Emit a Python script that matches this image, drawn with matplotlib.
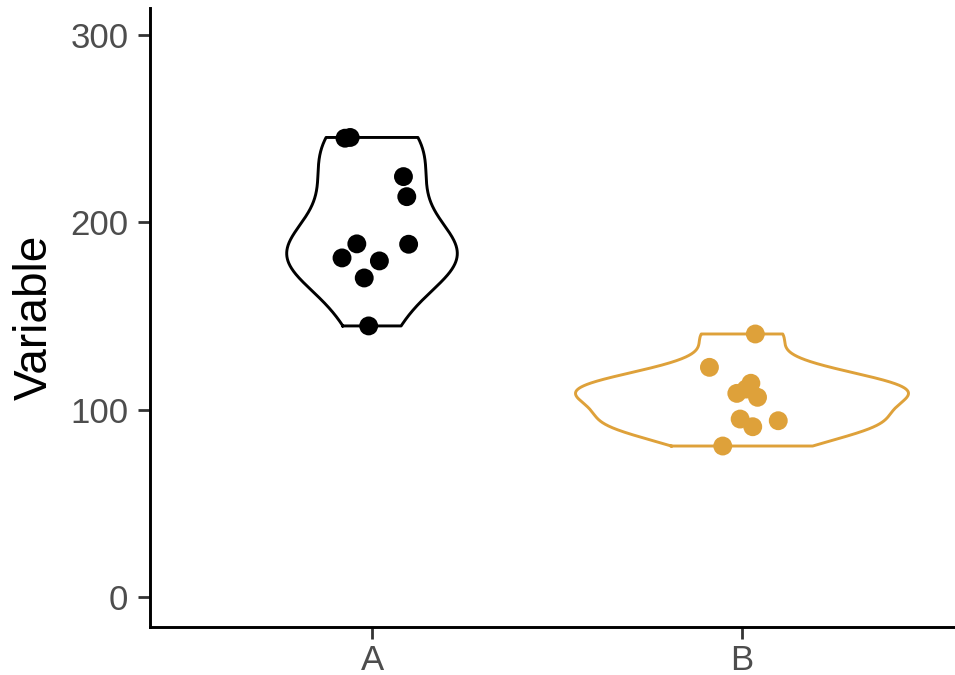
import numpy as np
import matplotlib
matplotlib.use("Agg")
import matplotlib.pyplot as plt

plt.rcParams['font.family'] = ['Liberation Sans', 'DejaVu Sans']

# Groups, their colours, and the observed values with their horizontal jitter
groups = ["A", "B"]
colors = ["#000000", "#DEA13A"]

values_a = [244.9, 245.3, 224.4, 213.7, 188.3, 188.5, 181.0, 179.4, 170.3, 144.7]
jitter_a = [-0.073, -0.059, 0.085, 0.094, 0.099, -0.041, -0.081, 0.020, -0.021, -0.009]

values_b = [140.4, 122.6, 114.1, 111.0, 108.7, 106.6, 95.0, 90.9, 94.1, 80.6]
jitter_b = [0.036, -0.088, 0.024, 0.011, -0.014, 0.042, -0.005, 0.029, 0.098, -0.052]

y_ticks = [0, 100, 200, 300]
y_label = "Variable"


def bw_nrd0(x):
    x = np.asarray(x, float)
    sd = np.std(x, ddof=1)
    iqr = np.subtract(*np.percentile(x, [75, 25]))
    lo = min(sd, iqr / 1.34) if iqr > 0 else sd
    return 0.9 * lo * len(x) ** (-0.2)


def kde(x, grid):
    x = np.asarray(x, float)
    h = bw_nrd0(x)
    z = (grid[:, None] - x[None, :]) / h
    return np.exp(-0.5 * z ** 2).sum(axis=1) / (len(x) * h * np.sqrt(2 * np.pi))


data = [values_a, values_b]
jitters = [jitter_a, jitter_b]
grids = [np.linspace(min(v), max(v), 512) for v in data]
dens = [kde(v, g) for v, g in zip(data, grids)]
dmax = max(d.max() for d in dens)

fig = plt.figure(figsize=(9.55, 6.75), dpi=100)
W, H = 955, 675
left_px, right_px, top_px, bottom_px = 150, 955, 8, 627
ax = fig.add_axes([left_px / W, 1 - bottom_px / H,
                   (right_px - left_px) / W, (bottom_px - top_px) / H])

px_per_unit = 370.0
ax.set_xlim(0.4, 0.4 + (right_px - left_px) / px_per_unit)
ax.set_ylim(-16.0, 314.4)

for i, (v, jit, g, d, c) in enumerate(zip(data, jitters, grids, dens, colors)):
    pos = i + 1
    half = d / dmax * 0.45
    xs = np.concatenate([pos - half, (pos + half)[::-1], [pos - half[0]]])
    ys = np.concatenate([g, g[::-1], [g[0]]])
    ax.plot(xs, ys, color=c, lw=2.1, solid_joinstyle='round', zorder=2)
    ax.scatter(pos + np.asarray(jit), v, s=185, color=c, edgecolors='none', zorder=3)

ax.set_xticks([1, 2])
ax.set_xticklabels(groups)
ax.set_yticks(y_ticks)
ax.set_ylabel(y_label, fontsize=33, labelpad=10)

for side in ["top", "right"]:
    ax.spines[side].set_visible(False)
for side in ["left", "bottom"]:
    ax.spines[side].set_linewidth(2.1)
    ax.spines[side].set_color("black")

ax.tick_params(axis='both', length=8.5, width=2.0, color='#333333',
               labelsize=25, labelcolor='#4D4D4D', pad=7)
ax.tick_params(axis='x', pad=3.5)

fig.savefig("out.png", dpi=100)
